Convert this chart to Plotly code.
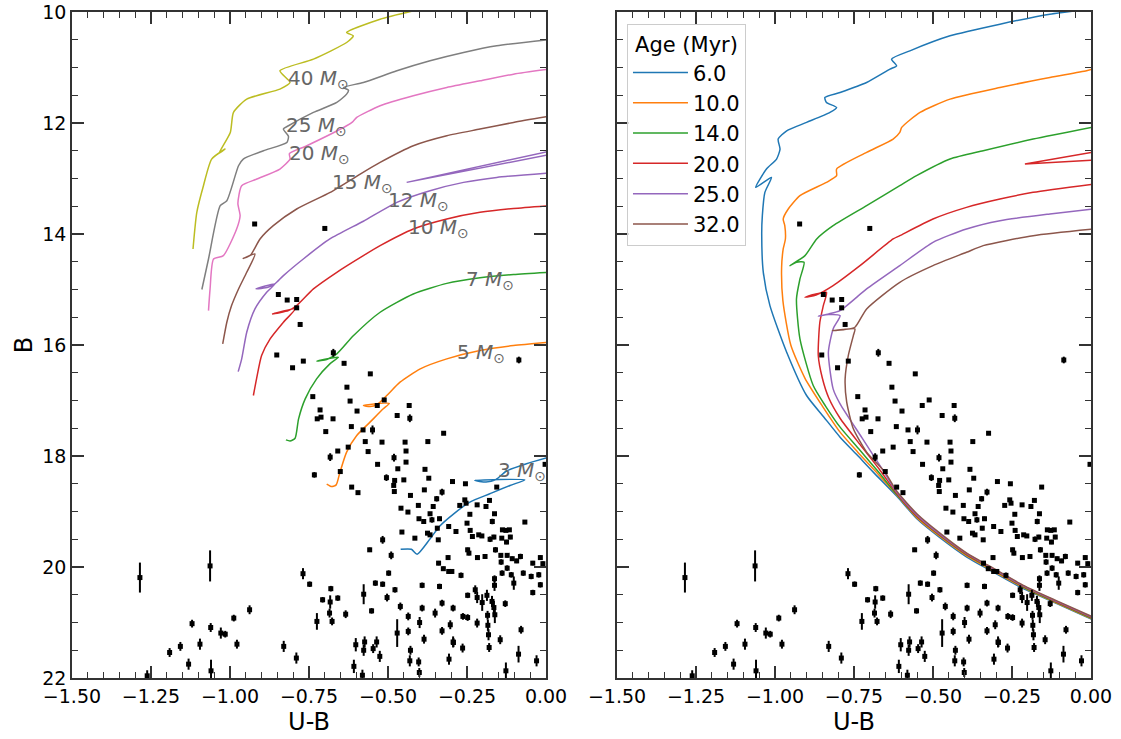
import plotly.graph_objects as go

# ---------------- observed stars (U-B, B, error in B) ----------------
star_ub = [-0.922,-0.700,-0.847,-0.819,-0.789,-0.789,-0.778,-0.852,-0.802,-0.768,
           -0.673,-0.639,-0.556,-0.086,-0.630,-0.738,-0.620,-0.512,-0.715,-0.598,
           -0.534,-0.433,-0.724,-0.712,-0.674,-0.431,-0.471,-0.616,-0.579,-0.549,
           -0.697,-0.572,-0.519,-0.446,-0.374,-0.324,-0.626,-0.563,-0.659,-0.443,
           -0.481,-0.683,-0.533,-0.443,-0.469,-0.383,-0.651,-0.733,-0.505,-0.479,
           -0.450,-0.371,-0.296,-0.255,-0.156,-0.482,-0.480,-0.385,-0.329,-0.429,
           -0.615,-0.595,-0.346,-0.257,-0.253,-0.273,-0.218,-0.190,-0.179,-0.459,
           -0.437,-0.404,-0.357,-0.402,-0.387,-0.361,-0.337,-0.367,-0.241,-0.163,
           -0.170,-0.067,-0.308,-0.285,-0.250,-0.240,-0.233,-0.213,-0.203,-0.177,
           -0.165,-0.344,-0.375,-0.367,-0.341,-0.415,-0.456,-0.517,-0.138,-0.127,
           -0.116,-0.140,-0.113,-0.125,-0.160,-0.558,-0.490,-0.248,-0.244,-0.217,
           -0.193,-0.310,-0.340,-0.325,-0.308,-0.298,-0.269,-0.143,-0.123,-0.107,
           -0.093,-0.081,-0.142,-0.139,-0.123,-0.110,-0.102,-0.072,-0.047,-0.042,
           -0.018,-0.010,-0.023,-0.018,-0.042,-0.003,-0.769,-0.748,-0.707,-0.681,
           -0.683,-0.685,-0.677,-0.659,-0.634,-0.725,-0.602,-0.577,-0.574,-0.552,
           -0.536,-0.540,-0.517,-0.503,-0.498,-0.478,-0.461,-0.471,-0.436,-0.436,
           -0.400,-0.386,-0.392,-0.392,-0.351,-0.337,-0.329,-0.329,-0.303,-0.294,
           -0.294,-0.263,-0.248,-0.248,-0.224,-0.218,-0.218,-0.202,-0.187,-0.185,
           -0.184,-0.171,-0.165,-0.162,-0.145,-0.129,-0.163,-0.163,-0.079,-0.182,
           -1.285,-1.063,-0.938,-0.988,-1.120,-1.061,-1.029,-1.015,-0.978,-1.095,
           -1.157,-1.191,-1.131,-1.060,-1.262,-0.830,-0.790,-0.608,-0.581,-0.577,
           -0.547,-0.526,-0.431,-0.429,-0.403,-0.401,-0.307,-0.293,-0.264,-0.180,
           -0.127,-0.087,-0.030]
star_B = [13.82,13.90,15.09,15.19,15.18,15.33,15.63,16.18,16.41,16.29,
          16.14,16.33,16.52,16.27,16.76,16.93,17.01,16.99,17.17,17.19,
          17.09,17.09,17.33,17.30,17.33,17.32,17.27,17.47,17.53,17.53,
          17.56,17.74,17.75,17.75,17.74,17.59,17.84,17.92,17.91,17.91,
          18.03,18.02,18.15,18.11,18.23,18.24,18.28,18.34,18.39,18.44,
          18.43,18.40,18.46,18.50,18.56,18.53,18.64,18.61,18.65,18.71,
          18.56,18.66,18.77,18.79,18.85,18.89,18.88,18.91,18.80,18.94,
          19.01,18.89,18.91,19.13,19.18,19.15,19.13,19.04,19.05,19.04,
          19.18,19.19,19.27,19.36,19.21,19.34,19.45,19.42,19.44,19.50,
          19.46,19.30,19.39,19.42,19.51,19.48,19.37,19.51,19.33,19.34,
          19.33,19.48,19.46,19.55,19.69,19.69,19.79,19.69,19.75,19.83,
          19.81,19.83,19.93,20.03,20.08,20.08,20.15,19.79,19.79,19.85,
          19.89,19.81,19.91,20.11,20.02,20.14,20.29,20.11,20.17,19.93,
          19.83,19.94,20.14,20.32,20.46,18.15,20.12,20.31,20.59,20.39,
          20.63,20.83,20.98,20.56,20.85,20.98,21.40,20.49,21.35,20.79,
          21.35,20.29,20.31,20.55,20.11,20.41,20.71,21.19,20.89,21.16,
          21.00,21.30,20.74,20.33,20.83,20.35,20.65,21.15,21.04,20.74,
          21.35,20.89,20.91,20.51,20.41,20.55,21.01,20.64,20.51,20.87,
          21.05,20.62,20.73,20.86,21.31,20.66,20.33,20.21,21.13,21.22,
          20.19,19.98,20.77,20.92,21.02,21.09,21.19,21.21,21.39,21.39,
          21.43,21.54,21.75,21.87,21.96,21.43,21.64,21.79,21.95,21.50,
          21.47,21.61,21.69,21.50,21.71,21.90,21.66,21.36,21.46,21.45,
          21.87,21.57,21.69]
star_eB = [0.02,0.02,0.02,0.02,0.02,0.02,0.02,0.02,0.02,0.02,
           0.07,0.02,0.02,0.06,0.02,0.02,0.02,0.02,0.02,0.02,
           0.02,0.02,0.03,0.02,0.02,0.07,0.03,0.02,0.02,0.08,
           0.02,0.02,0.02,0.02,0.02,0.02,0.03,0.02,0.02,0.02,
           0.07,0.07,0.02,0.02,0.02,0.02,0.03,0.05,0.06,0.03,
           0.03,0.02,0.03,0.02,0.02,0.03,0.02,0.03,0.06,0.02,
           0.03,0.03,0.05,0.03,0.03,0.02,0.03,0.02,0.03,0.02,
           0.02,0.03,0.03,0.03,0.03,0.05,0.04,0.03,0.03,0.03,
           0.05,0.02,0.03,0.02,0.03,0.03,0.04,0.03,0.03,0.05,
           0.04,0.04,0.03,0.03,0.03,0.03,0.03,0.07,0.03,0.03,
           0.03,0.03,0.04,0.04,0.05,0.04,0.07,0.04,0.04,0.04,
           0.04,0.04,0.04,0.04,0.04,0.04,0.05,0.04,0.04,0.04,
           0.04,0.05,0.05,0.05,0.05,0.05,0.12,0.05,0.05,0.04,
           0.04,0.04,0.05,0.05,0.05,0.03,0.10,0.05,0.05,0.05,
           0.12,0.08,0.07,0.05,0.07,0.15,0.12,0.18,0.10,0.05,
           0.10,0.05,0.05,0.07,0.05,0.05,0.07,0.25,0.07,0.07,
           0.10,0.08,0.06,0.05,0.08,0.05,0.06,0.07,0.08,0.06,
           0.10,0.06,0.06,0.05,0.08,0.10,0.08,0.15,0.10,0.08,
           0.10,0.10,0.12,0.15,0.08,0.06,0.10,0.06,0.07,0.10,
           0.27,0.28,0.08,0.06,0.07,0.08,0.10,0.06,0.08,0.10,
           0.08,0.08,0.10,0.20,0.10,0.10,0.10,0.12,0.10,0.10,
           0.08,0.10,0.10,0.08,0.08,0.08,0.10,0.08,0.08,0.08,
           0.15,0.15,0.10]

# ---------------- evolutionary tracks (left panel) ----------------
m3_ub = [-0.460,-0.426,-0.408,-0.368,-0.336,-0.294,-0.241,-0.178,-0.114,-0.067,-0.225,-0.190,-0.160,-0.125,-0.062,0.010]
m3_B  = [19.68,19.68,19.77,19.50,19.26,19.05,18.83,18.68,18.53,18.43,18.44,18.47,18.43,18.27,18.14,18.02]
m5_ub = [-0.694,-0.678,-0.664,-0.652,-0.631,-0.599,-0.557,-0.515,-0.496,-0.578,-0.557,-0.536,-0.504,-0.462,-0.398,-0.314,-0.209,-0.103,0.010]
m5_B  = [18.505,18.55,18.52,18.29,17.93,17.63,17.39,17.15,17.05,17.09,17.11,17.08,16.91,16.67,16.43,16.25,16.10,16.01,15.95]
m7_ub = [-0.823,-0.810,-0.794,-0.783,-0.762,-0.726,-0.684,-0.657,-0.725,-0.694,-0.662,-0.609,-0.525,-0.420,-0.314,-0.209,-0.103,0.010]
m7_B  = [17.71,17.73,17.68,17.33,16.97,16.61,16.34,16.22,16.29,16.26,16.16,15.83,15.41,15.08,14.89,14.79,14.73,14.69]
m10_ub = [-0.926,-0.916,-0.900,-0.873,-0.831,-0.794,-0.865,-0.815,-0.789,-0.736,-0.662,-0.578,-0.525,-0.420,-0.314,-0.209,-0.103,0.010]
m10_B  = [16.91,16.61,16.19,15.89,15.59,15.35,15.44,15.38,15.29,14.99,14.69,14.39,14.21,13.91,13.73,13.61,13.54,13.49]
m12_ub = [-0.974,-0.963,-0.947,-0.921,-0.884,-0.858,-0.918,-0.880,-0.858,-0.831,-0.768,-0.684,-0.578,-0.472,-0.367,-0.261,-0.156,0.010]
m12_B  = [16.48,16.25,15.77,15.35,15.05,14.90,14.99,14.96,14.90,14.75,14.45,14.09,13.77,13.43,13.22,13.07,12.98,12.90]
m12b_ub = [0.010,-0.441,0.010]
m12b_B  = [12.51,13.07,12.57]
m15_ub = [-1.023,-1.010,-0.995,-0.973,-0.947,-0.921,-0.958,-0.935,-0.905,-0.863,-0.789,-0.683,-0.588,-0.525,-0.420,-0.314,-0.209,-0.103,0.010]
m15_B  = [15.98,15.59,15.29,14.99,14.69,14.36,14.44,14.38,14.09,13.85,13.55,13.25,12.92,12.71,12.41,12.23,12.11,11.99,11.88]
m20_ub = [-1.068,-1.063,-1.052,-1.021,-0.979,-0.968,-0.975,-0.963,-0.915,-0.842,-0.810,-0.812,-0.757,-0.631,-0.612,-0.599,-0.525,-0.420,-0.314,-0.209,-0.103,0.010]
m20_B  = [15.38,14.99,14.45,14.39,13.91,13.67,13.45,13.13,13.01,12.83,12.65,12.55,12.41,12.05,11.98,11.90,11.69,11.51,11.36,11.24,11.12,11.03]
m25_ub = [-1.089,-1.068,-1.031,-1.010,-0.973,-0.958,-0.894,-0.820,-0.815,-0.831,-0.815,-0.736,-0.662,-0.631,-0.625,-0.641,-0.578,-0.472,-0.367,-0.261,-0.156,0.010]
m25_B  = [15.00,14.45,13.49,13.40,12.77,12.65,12.50,12.35,12.24,12.11,12.05,11.81,11.63,11.48,11.41,11.36,11.27,11.06,10.88,10.73,10.61,10.50]
m40_ub = [-1.117,-1.105,-1.084,-1.058,-1.016,-1.035,-0.999,-0.989,-0.947,-0.842,-0.810,-0.842,-0.736,-0.631,-0.610,-0.631,-0.525,-0.420]
m40_B  = [14.27,13.61,13.13,12.65,12.47,12.55,12.17,11.81,11.57,11.39,11.27,11.06,10.85,10.55,10.43,10.37,10.13,9.98]

track_ubs = [m3_ub, m5_ub, m7_ub, m10_ub, m12_ub, m15_ub, m20_ub, m25_ub, m40_ub]
track_Bs = [m3_B, m5_B, m7_B, m10_B, m12_B, m15_B, m20_B, m25_B, m40_B]
track_colors = ["#1f77b4", "#ff7f0e", "#2ca02c", "#d62728", "#9467bd", "#8c564b", "#e377c2", "#7f7f7f", "#bcbd22"]

mass_labels = ["3", "5", "7", "10", "12", "15", "20", "25", "40"]
label_ub = [-0.076, -0.206, -0.177, -0.339, -0.402, -0.582, -0.718, -0.725, -0.720]
label_B = [18.27, 16.14, 14.83, 13.89, 13.41, 13.08, 12.56, 12.05, 11.20]

# ---------------- isochrones (right panel) ----------------
iso6_ub = [0.010,-0.108,-0.214,-0.319,-0.393,-0.478,-0.551,-0.615,-0.689,-0.742,-0.794,-0.845,-0.900,-0.963,-1.016,-1.037,-1.042,-1.040,-1.032,-1.011,-1.061,-1.027,-0.995,-0.984,-0.990,-0.963,-0.900,-0.826,-0.805,-0.837,-0.842,-0.794,-0.710,-0.636,-0.615,-0.631,-0.573,-0.446,-0.288,-0.130,0.010]
iso6_B  = [20.96,20.66,20.39,20.06,19.82,19.47,19.13,18.72,18.29,17.97,17.66,17.30,16.91,16.13,15.29,14.69,14.00,13.67,13.25,12.98,13.16,12.83,12.65,12.47,12.29,12.14,11.99,11.81,11.72,11.63,11.54,11.45,11.27,11.03,10.97,10.85,10.70,10.43,10.22,10.04,9.94]
iso10_ub = [0.010,-0.108,-0.214,-0.319,-0.393,-0.478,-0.551,-0.615,-0.681,-0.738,-0.794,-0.850,-0.905,-0.950,-0.975,-0.979,-0.974,-0.967,-0.969,-0.974,-0.958,-0.921,-0.837,-0.805,-0.805,-0.710,-0.626,-0.605,-0.599,-0.541,-0.446,-0.288,-0.130,-0.014,0.010]
iso10_B  = [20.95,20.65,20.37,20.04,19.80,19.45,19.11,18.70,18.28,17.93,17.57,17.10,16.60,16.00,15.20,14.60,14.27,14.09,13.85,13.73,13.55,13.31,13.07,12.95,12.83,12.53,12.29,12.17,12.08,11.81,11.57,11.36,11.18,11.06,11.02]
iso14_ub = [0.010,-0.108,-0.214,-0.319,-0.393,-0.478,-0.551,-0.615,-0.675,-0.735,-0.794,-0.840,-0.879,-0.921,-0.932,-0.921,-0.908,-0.932,-0.953,-0.905,-0.868,-0.816,-0.710,-0.605,-0.552,-0.446,-0.341,-0.183,0.010]
iso14_B  = [20.94,20.64,20.36,20.02,19.78,19.43,19.09,18.69,18.27,17.87,17.48,17.10,16.73,15.89,15.17,14.81,14.51,14.51,14.57,14.39,14.09,13.85,13.49,13.13,12.95,12.65,12.50,12.29,12.07]
iso20_ub = [0.010,-0.108,-0.214,-0.319,-0.393,-0.478,-0.551,-0.615,-0.667,-0.730,-0.794,-0.830,-0.850,-0.863,-0.858,-0.847,-0.837,-0.878,-0.905,-0.870,-0.816,-0.731,-0.626,-0.605,-0.500,-0.394,-0.288,-0.183,0.010]
iso20_B  = [20.93,20.63,20.35,20.01,19.77,19.42,19.08,18.67,18.26,17.80,17.32,16.95,16.60,16.19,15.59,15.29,15.05,15.09,15.14,15.10,14.93,14.57,14.09,14.03,13.73,13.52,13.37,13.25,13.10]
iso20b_ub = [0.010,-0.209,0.010]
iso20b_B  = [12.52,12.74,12.67]
iso25_ub = [0.010,-0.108,-0.214,-0.319,-0.393,-0.478,-0.551,-0.615,-0.660,-0.725,-0.794,-0.816,-0.831,-0.816,-0.794,-0.830,-0.863,-0.830,-0.794,-0.710,-0.605,-0.500,-0.394,-0.288,-0.130,0.010]
iso25_B  = [20.92,20.62,20.34,20.00,19.76,19.41,19.06,18.65,18.24,17.67,17.06,16.79,16.13,15.71,15.47,15.45,15.48,15.44,15.38,14.99,14.57,14.15,13.91,13.76,13.64,13.55]
iso32_ub = [0.010,-0.108,-0.214,-0.319,-0.393,-0.478,-0.551,-0.615,-0.652,-0.710,-0.752,-0.773,-0.778,-0.768,-0.752,-0.747,-0.785,-0.818,-0.780,-0.747,-0.710,-0.605,-0.500,-0.394,-0.341,-0.183,0.010]
iso32_B  = [20.91,20.61,20.33,19.99,19.75,19.39,19.04,18.63,18.29,17.93,17.51,17.03,16.61,16.19,15.83,15.71,15.72,15.74,15.72,15.68,15.35,14.87,14.57,14.33,14.21,14.03,13.91]

iso_ubs = [iso6_ub, iso10_ub, iso14_ub, iso20_ub, iso25_ub, iso32_ub]
iso_Bs = [iso6_B, iso10_B, iso14_B, iso20_B, iso25_B, iso32_B]
iso_ages = ["6.0", "10.0", "14.0", "20.0", "25.0", "32.0"]
iso_colors = ["#1f77b4", "#ff7f0e", "#2ca02c", "#d62728", "#9467bd", "#8c564b"]

FONT = "DejaVu Sans"
SMOOTH = 0.6
fig = go.Figure()

# left panel tracks
for xs, ys, c in zip(track_ubs, track_Bs, track_colors):
    fig.add_trace(go.Scatter(x=xs, y=ys, mode="lines",
                             line=dict(color=c, width=1.5, shape="spline", smoothing=SMOOTH),
                             showlegend=False, hoverinfo="skip", xaxis="x", yaxis="y"))
fig.add_trace(go.Scatter(x=m12b_ub, y=m12b_B, mode="lines", line=dict(color="#9467bd", width=1.5),
                         showlegend=False, hoverinfo="skip", xaxis="x", yaxis="y"))

# right panel isochrones
for xs, ys, c, a in zip(iso_ubs, iso_Bs, iso_colors, iso_ages):
    fig.add_trace(go.Scatter(x=xs, y=ys, mode="lines",
                             line=dict(color=c, width=1.5, shape="spline", smoothing=SMOOTH),
                             name=a, showlegend=True, xaxis="x2", yaxis="y2"))
fig.add_trace(go.Scatter(x=iso20b_ub, y=iso20b_B, mode="lines", line=dict(color="#d62728", width=1.5),
                         showlegend=False, hoverinfo="skip", xaxis="x2", yaxis="y2"))

# stars in both panels
for xa, ya in (("x", "y"), ("x2", "y2")):
    fig.add_trace(go.Scatter(
        x=star_ub, y=star_B, mode="markers",
        marker=dict(symbol="square", size=5, color="black"),
        error_y=dict(type="data", array=star_eB, visible=True, color="black", thickness=2, width=0),
        showlegend=False, xaxis=xa, yaxis=ya, cliponaxis=True))

for lab, lx, ly in zip(mass_labels, label_ub, label_B):
    fig.add_annotation(x=lx, y=ly, xref="x", yref="y", text=f"{lab} <i>M</i><sub>⊙</sub>",
                       showarrow=False, font=dict(family=FONT, size=20, color="#666666"))

axcommon = dict(showline=True, linecolor="#333333", linewidth=1.5, mirror="ticks",
                ticks="inside", tickcolor="#333333", tickwidth=1.5, ticklen=12,
                showgrid=False, zeroline=False,
                tickfont=dict(family=FONT, size=19, color="black"))
xcommon = dict(axcommon, range=[-1.5, 0.0], tick0=-1.5, dtick=0.25, tickformat=".2f",
               minor=dict(ticks="inside", ticklen=6, dtick=0.05, tick0=0, tickcolor="#333333", tickwidth=1.2),
               title=dict(text="U-B", font=dict(family=FONT, size=24, color="black"), standoff=8))
ycommon = dict(axcommon, range=[22, 10], tick0=10, dtick=2,
               minor=dict(ticks="inside", ticklen=6, dtick=0.5, tick0=10, tickcolor="#333333", tickwidth=1.2))

fig.update_layout(
    width=1121, height=739,
    margin=dict(l=0, r=0, t=0, b=0),
    paper_bgcolor="white", plot_bgcolor="white",
    font=dict(family=FONT, color="black"),
    xaxis=dict(xcommon, domain=[0.0642, 0.4871], anchor="y", automargin=False),
    xaxis2=dict(xcommon, domain=[0.5504, 0.9732], anchor="y2", automargin=False),
    yaxis=dict(ycommon, domain=[0.0825, 0.9838], anchor="x", automargin=False,
               title=dict(text="B", font=dict(family=FONT, size=24, color="black"), standoff=3)),
    yaxis2=dict(ycommon, domain=[0.0825, 0.9838], anchor="x2", showticklabels=False, automargin=False),
    legend=dict(x=0.5593, y=0.9675, xanchor="left", yanchor="top",
                bgcolor="rgba(255,255,255,0.8)", bordercolor="#cccccc", borderwidth=1,
                font=dict(family=FONT, size=21, color="black"),
                title=dict(text="Age (Myr)", side="top center", font=dict(family=FONT, size=21)),
                itemwidth=55),
)

fig.write_html("out.html")
